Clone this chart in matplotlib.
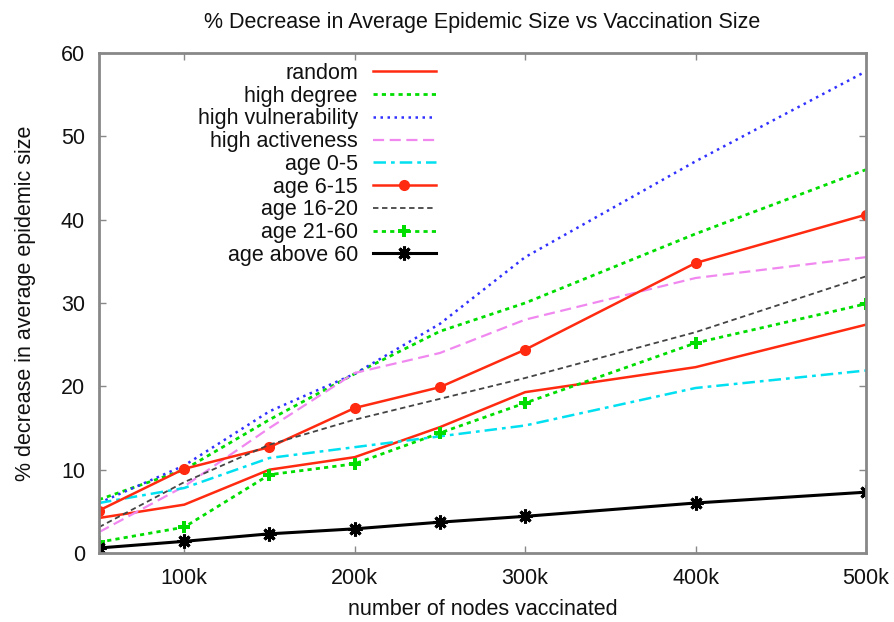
import matplotlib
matplotlib.use("Agg")
import matplotlib.pyplot as plt

plt.rcParams['font.family'] = ['Liberation Sans', 'DejaVu Sans']

# nodes vaccinated (thousands)
nodes_k = [50, 100, 150, 200, 250, 300, 400, 500]

random_sel = [4.2, 5.8, 10.0, 11.5, 15.1, 19.3, 22.3, 27.4]
high_degree = [6.4, 10.0, 16.0, 21.5, 26.6, 30.0, 38.3, 46.0]
high_vuln = [6.0, 10.5, 17.0, 21.5, 27.5, 35.5, 47.0, 57.8]
high_active = [2.5, 8.0, 15.0, 21.6, 24.0, 28.0, 33.0, 35.5]
age_0_5 = [6.0, 7.8, 11.4, 12.7, 14.0, 15.3, 19.8, 21.9]
age_6_15 = [5.1, 10.1, 12.7, 17.4, 19.9, 24.4, 34.8, 40.6]
age_16_20 = [3.1, 8.5, 13.0, 16.0, 18.5, 21.0, 26.5, 33.2]
age_21_60 = [1.3, 3.1, 9.4, 10.7, 14.4, 18.0, 25.2, 29.9]
age_above_60 = [0.6, 1.4, 2.3, 2.9, 3.7, 4.4, 6.0, 7.3]

labels = ["random", "high degree", "high vulnerability", "high activeness",
          "age 0-5", "age 6-15", "age 16-20", "age 21-60", "age above 60"]
xtick_vals = [100, 200, 300, 400, 500]
xtick_labels = ["100k", "200k", "300k", "400k", "500k"]
ytick_vals = [0, 10, 20, 30, 40, 50, 60]

FS = 15.5

fig = plt.figure(figsize=(8.94, 6.22), dpi=100)
ax = fig.add_axes([99 / 894, 1 - 553 / 622, (866 - 99) / 894, (553 - 53) / 622])

# gnuplot-ish line styles
ax.plot(nodes_k, random_sel, color="#ff2a10", lw=1.8, label=labels[0])
ax.plot(nodes_k, high_degree, color="#00dd00", lw=2.0, dashes=(1.5, 1.5), label=labels[1])
ax.plot(nodes_k, high_vuln, color="#3030ff", lw=1.8, dashes=(1, 1.8), label=labels[2])
ax.plot(nodes_k, high_active, color="#f088f0", lw=1.6, dashes=(5, 2.5), label=labels[3])
ax.plot(nodes_k, age_0_5, color="#00e0f0", lw=1.8, dashes=(5, 2, 1.5, 2), label=labels[4])
ax.plot(nodes_k, age_6_15, color="#ff2a10", lw=1.8, marker="o", ms=7, label=labels[5])
ax.plot(nodes_k, age_16_20, color="#444444", lw=1.3, dashes=(3, 2), label=labels[6])
ax.plot(nodes_k, age_21_60, color="#00dd00", lw=2.0, dashes=(1.5, 1.5), marker="P",
        ms=8, mew=0, label=labels[7])
ax.plot(nodes_k, age_above_60, color="black", lw=2.2, marker=(8, 2, 0), ms=10,
        mew=2.2, label=labels[8])

ax.set_xlim(50, 500)
ax.set_ylim(0, 60)
ax.set_xticks(xtick_vals)
ax.set_xticklabels(xtick_labels)
ax.set_yticks(ytick_vals)

for sp in ax.spines.values():
    sp.set_color("#888888")
    sp.set_linewidth(2)
ax.tick_params(direction="in", top=True, right=True, length=5, width=1,
               color="#888888", labelsize=FS, labelcolor="#111111")
ax.tick_params(axis="x", pad=11)
ax.tick_params(axis="y", pad=10)

ax.set_title("% Decrease in Average Epidemic Size vs Vaccination Size",
             fontsize=FS, color="#111111", pad=18)
ax.set_xlabel("number of nodes vaccinated", fontsize=FS, color="#111111", labelpad=7)
ax.set_ylabel("% decrease in average epidemic size", fontsize=FS, color="#111111", labelpad=18)

ax.legend(loc="upper right", bbox_to_anchor=(436 / 894, 1 - 63 / 622),
          bbox_transform=fig.transFigure, frameon=False, markerfirst=False,
          fontsize=FS, handlelength=2.93, handletextpad=0.7, borderpad=0,
          borderaxespad=0, labelspacing=0.08, labelcolor="#111111")

fig.savefig("out.png", dpi=100)
